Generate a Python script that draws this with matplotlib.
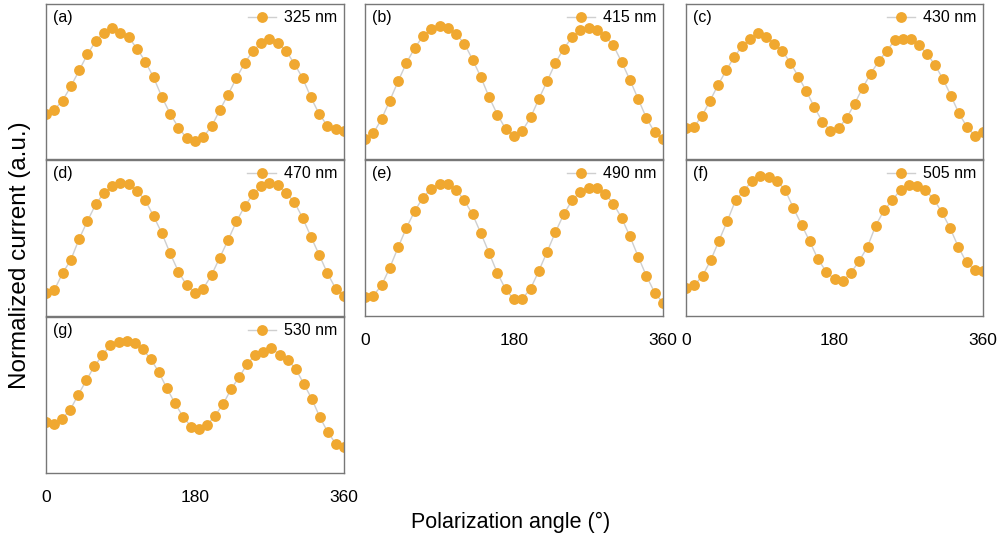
import matplotlib
matplotlib.use("Agg")
import matplotlib.pyplot as plt

plt.rcParams['font.family'] = ['Liberation Sans', 'DejaVu Sans']

angles37 = [0, 10, 20, 30, 40, 50, 60, 70, 80, 90, 100, 110, 120, 130, 140, 150, 160, 170, 180,
            190, 200, 210, 220, 230, 240, 250, 260, 270, 280, 290, 300, 310, 320, 330, 340, 350, 360]
angles38 = [0, 9.7, 19.5, 29.2, 38.9, 48.6, 58.4, 68.1, 77.8, 87.6, 97.3, 107.0, 116.8, 126.5,
            136.2, 145.9, 155.7, 165.4, 175.1, 184.9, 194.6, 204.3, 214.1, 223.8, 233.5, 243.2,
            253.0, 262.7, 272.4, 282.2, 291.9, 301.6, 311.4, 321.1, 330.8, 340.5, 350.3, 360]

cur_325 = [0.290, 0.318, 0.377, 0.468, 0.571, 0.675, 0.760, 0.816, 0.842, 0.816, 0.784, 0.712, 0.628,
           0.526, 0.400, 0.292, 0.203, 0.134, 0.117, 0.143, 0.210, 0.316, 0.416, 0.522, 0.619, 0.697,
           0.749, 0.771, 0.749, 0.697, 0.615, 0.522, 0.398, 0.290, 0.214, 0.193, 0.182]
cur_415 = [0.128, 0.165, 0.258, 0.377, 0.502, 0.619, 0.716, 0.792, 0.838, 0.857, 0.842, 0.805, 0.745,
           0.641, 0.528, 0.398, 0.286, 0.193, 0.149, 0.182, 0.268, 0.387, 0.502, 0.619, 0.712, 0.784,
           0.831, 0.848, 0.835, 0.792, 0.734, 0.626, 0.511, 0.387, 0.264, 0.171, 0.128]
cur_430 = [0.197, 0.208, 0.279, 0.377, 0.478, 0.571, 0.658, 0.729, 0.771, 0.810, 0.788, 0.745, 0.697,
           0.621, 0.532, 0.437, 0.333, 0.240, 0.182, 0.197, 0.264, 0.355, 0.459, 0.550, 0.630, 0.697,
           0.766, 0.771, 0.771, 0.734, 0.680, 0.608, 0.517, 0.409, 0.294, 0.208, 0.149, 0.175]
cur_470 = [0.149, 0.166, 0.274, 0.360, 0.494, 0.608, 0.716, 0.789, 0.832, 0.853, 0.845, 0.802, 0.741,
           0.640, 0.530, 0.401, 0.284, 0.196, 0.149, 0.175, 0.263, 0.375, 0.487, 0.606, 0.703, 0.780,
           0.832, 0.853, 0.838, 0.789, 0.731, 0.629, 0.509, 0.392, 0.274, 0.175, 0.131]
cur_490 = [0.121, 0.131, 0.196, 0.310, 0.440, 0.565, 0.672, 0.759, 0.817, 0.849, 0.849, 0.810, 0.741,
           0.651, 0.530, 0.403, 0.274, 0.170, 0.106, 0.110, 0.175, 0.289, 0.412, 0.537, 0.651, 0.741,
           0.795, 0.823, 0.823, 0.784, 0.720, 0.629, 0.511, 0.381, 0.256, 0.149, 0.084]
cur_505 = [0.177, 0.198, 0.256, 0.358, 0.483, 0.608, 0.741, 0.802, 0.866, 0.899, 0.892, 0.866, 0.810,
           0.694, 0.586, 0.478, 0.364, 0.284, 0.235, 0.224, 0.278, 0.353, 0.444, 0.580, 0.677, 0.741,
           0.810, 0.838, 0.832, 0.806, 0.752, 0.666, 0.565, 0.444, 0.343, 0.293, 0.289]
cur_530 = [0.330, 0.315, 0.347, 0.405, 0.501, 0.593, 0.685, 0.754, 0.822, 0.839, 0.846, 0.835, 0.792,
           0.732, 0.647, 0.544, 0.448, 0.362, 0.298, 0.283, 0.308, 0.368, 0.443, 0.540, 0.615, 0.700,
           0.758, 0.775, 0.801, 0.758, 0.726, 0.668, 0.572, 0.475, 0.358, 0.261, 0.186, 0.169]

panel_labels = ['(a)', '(b)', '(c)', '(d)', '(e)', '(f)', '(g)']
legend_labels = ['325 nm', '415 nm', '430 nm', '470 nm', '490 nm', '505 nm', '530 nm']
series_x = [angles37, angles37, angles38, angles37, angles37, angles37, angles38]
series_y = [cur_325, cur_415, cur_430, cur_470, cur_490, cur_505, cur_530]
xtick_vals = [0, 180, 360]
xtick_labels = ['0', '180', '360']

W, H = 1002, 543
fig = plt.figure(figsize=(W / 100, H / 100), dpi=100)

col_px = [(46, 344), (365, 663), (686, 983)]
row_px = [(4, 159), (160, 316), (317, 473)]
positions = [(0, 0), (0, 1), (0, 2), (1, 0), (1, 1), (1, 2), (2, 0)]
bottom_panels = {4, 5, 6}

marker_color = '#F0A830'
spine_color = '#777777'

for i, (r, c) in enumerate(positions):
    x0, x1 = col_px[c]
    y0, y1 = row_px[r]
    ax = fig.add_axes([x0 / W, (H - y1) / H, (x1 - x0) / W, (y1 - y0) / H])
    ax.plot(series_x[i], series_y[i], '-', color='#cfcfcf', lw=1.0,
            marker='o', markersize=7.8, markerfacecolor=marker_color,
            markeredgecolor=marker_color, markeredgewidth=0, label=legend_labels[i])
    ax.set_xlim(0, 360)
    ax.set_ylim(0, 1)
    ax.set_yticks([])
    for s in ax.spines.values():
        s.set_color(spine_color)
        s.set_linewidth(1.0)
    if i in bottom_panels:
        ax.set_xticks(xtick_vals)
        ax.set_xticklabels(xtick_labels)
        ax.tick_params(axis='x', length=0, pad=12, labelsize=12.5)
    else:
        ax.set_xticks([])
    ax.text(0.025, 0.915, panel_labels[i], transform=ax.transAxes,
            fontsize=11.5, va='center', ha='left')
    ax.legend(loc='upper right', frameon=False, fontsize=11.5, handlelength=1.8,
              handletextpad=0.5, borderaxespad=0.1, borderpad=0.3)

fig.text(0.02, 0.53, 'Normalized current (a.u.)', rotation=90, fontsize=17.5,
         va='center', ha='center')
fig.text(0.51, 0.038, 'Polarization angle (°)', fontsize=15.5, va='center', ha='center')

fig.savefig('out.png', dpi=100)
